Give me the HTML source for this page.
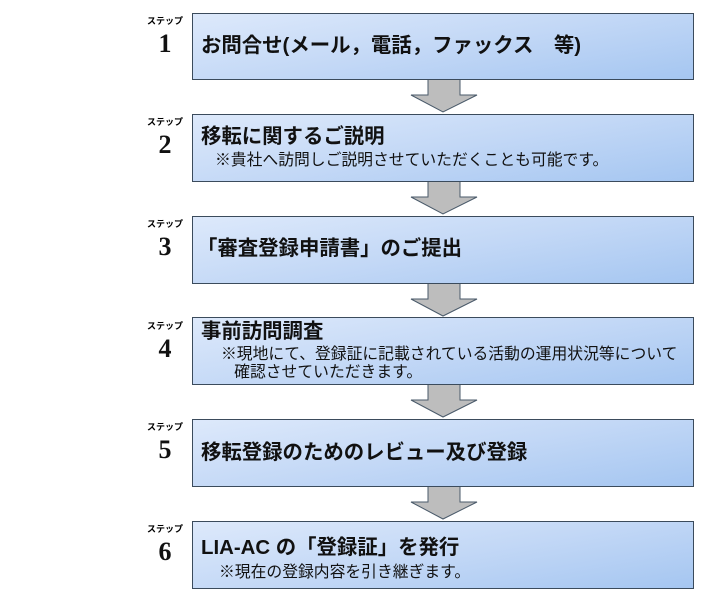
<!DOCTYPE html>
<html><head><meta charset="utf-8"><style>
body{margin:0;width:712px;height:610px;background:#fff;position:relative;overflow:hidden;font-family:"Liberation Sans","Noto Sans CJK JP",sans-serif;}
.box{position:absolute;left:192px;width:502px;height:66px;border:1px solid #3b4b5c;background:linear-gradient(170deg,#dde9fb 0%,#c3d8f6 50%,#a5c6f1 100%);box-sizing:border-box;}
.t{position:absolute;left:8px;font-weight:bold;font-size:20.4px;line-height:24px;color:#111;white-space:nowrap;}
.s{position:absolute;font-size:15.8px;color:#111;white-space:nowrap;line-height:18px;}
.st{position:absolute;left:145px;width:40px;text-align:center;font-size:9px;font-weight:bold;color:#000;}
.n{position:absolute;left:145px;width:40px;text-align:center;font-family:"Liberation Serif","DejaVu Serif",serif;font-weight:bold;font-size:26px;color:#111;}
svg{position:absolute;left:0;top:0;}
</style></head><body>
<svg width="712" height="610">
<g fill="#bdbdbd" stroke="#4a5a6a" stroke-width="1">
<polygon points="428,79 460,79 460,95 477,95 443,112 411,95 428,95"/>
<polygon points="428,181 460,181 460,197 477,197 443,214 411,197 428,197"/>
<polygon points="428,283 460,283 460,299 477,299 443,316 411,299 428,299"/>
<polygon points="428,384 460,384 460,400 477,400 443,417 411,400 428,400"/>
<polygon points="428,486 460,486 460,502 477,502 443,519 411,502 428,502"/>
</g></svg>

<div class="st" style="top:14px">ステップ</div><div class="n" style="top:29px">1</div>
<div class="box" style="top:13px;height:67px"><div class="t" style="top:20px">お問合せ(メール，電話，ファックス　等)</div></div>

<div class="st" style="top:115px">ステップ</div><div class="n" style="top:130px">2</div>
<div class="box" style="top:114px;height:68px"><div class="t" style="top:10px">移転に関するご説明</div><div class="s" style="left:22px;top:37px">※貴社へ訪問しご説明させていただくことも可能です。</div></div>

<div class="st" style="top:217px">ステップ</div><div class="n" style="top:232px">3</div>
<div class="box" style="top:216px;height:68px"><div class="t" style="top:20px;left:4px">「審査登録申請書」のご提出</div></div>

<div class="st" style="top:319px">ステップ</div><div class="n" style="top:334px">4</div>
<div class="box" style="top:317px;height:68px"><div class="t" style="top:2px">事前訪問調査</div><div class="s" style="left:28px;top:28px">※現地にて、登録証に記載されている活動の運用状況等について<br>&nbsp;&nbsp;&nbsp;確認させていただきます。</div></div>

<div class="st" style="top:420px">ステップ</div><div class="n" style="top:435px">5</div>
<div class="box" style="top:419px;height:68px"><div class="t" style="top:21px">移転登録のためのレビュー及び登録</div></div>

<div class="st" style="top:522px">ステップ</div><div class="n" style="top:537px">6</div>
<div class="box" style="top:521px;height:68px"><div class="t" style="top:14px">LIA-AC の「登録証」を発行</div><div class="s" style="left:26px;top:42px">※現在の登録内容を引き継ぎます。</div></div>
</body></html>
